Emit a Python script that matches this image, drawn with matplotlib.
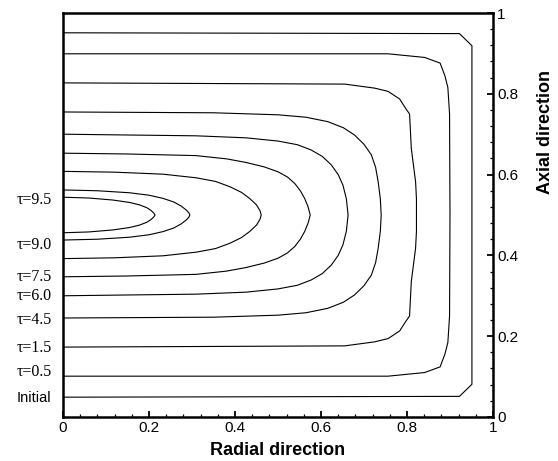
import matplotlib
matplotlib.use('Agg')
import matplotlib.pyplot as plt
from matplotlib.ticker import MultipleLocator
import numpy as np

# lower half of each contour (x, y), outer -> inner;
# the upper half is the mirror image about y = 0.5
c1_x = [0, 0.922, 0.951, 0.951]
c1_y = [0.049, 0.051, 0.081, 0.5]
c2_x = [0, 0.756, 0.841, 0.877, 0.888, 0.895, 0.899, 0.900]
c2_y = [0.101, 0.101, 0.110, 0.124, 0.155, 0.184, 0.25, 0.5]
c3_x = [0, 0.655, 0.725, 0.756, 0.783, 0.798, 0.806, 0.810, 0.820, 0.822, 0.822]
c3_y = [0.173, 0.176, 0.186, 0.194, 0.213, 0.238, 0.25, 0.335, 0.418, 0.46, 0.5]
c4_x = [0, 0.35, 0.5, 0.565, 0.616, 0.652, 0.678, 0.700, 0.717, 0.727, 0.733, 0.738, 0.740]
c4_y = [0.245, 0.247, 0.252, 0.258, 0.269, 0.284, 0.302, 0.325, 0.351, 0.382, 0.418, 0.460, 0.5]
c5_x = [0, 0.15, 0.309, 0.426, 0.5, 0.545, 0.577, 0.603, 0.624, 0.640, 0.651, 0.659, 0.663]
c5_y = [0.300, 0.302, 0.304, 0.309, 0.317, 0.326, 0.339, 0.355, 0.376, 0.400, 0.426, 0.460, 0.5]
c6_x = [0, 0.15, 0.309, 0.38, 0.426, 0.468, 0.5, 0.522, 0.539, 0.552, 0.562, 0.570, 0.575]
c6_y = [0.347, 0.349, 0.353, 0.361, 0.370, 0.381, 0.393, 0.406, 0.422, 0.440, 0.459, 0.480, 0.5]
c7_x = [0, 0.12, 0.233, 0.310, 0.355, 0.388, 0.415, 0.434, 0.450, 0.458, 0.461]
c7_y = [0.392, 0.394, 0.399, 0.408, 0.417, 0.430, 0.444, 0.459, 0.475, 0.489, 0.5]
c8_x = [0, 0.08, 0.155, 0.20, 0.233, 0.258, 0.275, 0.287, 0.293, 0.295]
c8_y = [0.438, 0.440, 0.445, 0.451, 0.459, 0.468, 0.478, 0.488, 0.495, 0.5]
c9_x = [0, 0.06, 0.116, 0.155, 0.178, 0.195, 0.205, 0.211, 0.214]
c9_y = [0.456, 0.458, 0.463, 0.469, 0.475, 0.482, 0.489, 0.495, 0.5]

curves = [(c1_x, c1_y), (c2_x, c2_y), (c3_x, c3_y), (c4_x, c4_y), (c5_x, c5_y),
          (c6_x, c6_y), (c7_x, c7_y), (c8_x, c8_y), (c9_x, c9_y)]

labels = ['Initial', '\u03c4=0.5', '\u03c4=1.5', '\u03c4=4.5', '\u03c4=6.0',
          '\u03c4=7.5', '\u03c4=9.0', '\u03c4=9.5']
label_y = [0.047, 0.111, 0.171, 0.240, 0.300, 0.347, 0.426, 0.537]

fig = plt.figure(figsize=(5.58, 4.61), dpi=100)
ax = fig.add_axes([0.1129, 0.0955, 0.7706, 0.8763])

for cx, cy in curves:
    lx = np.array(cx)
    ly = np.array(cy)
    x = np.concatenate([lx, lx[::-1][1:]])
    y = np.concatenate([ly, 1 - ly[::-1][1:]])
    ax.plot(x, y, color='black', lw=0.8)

for lab, ly in zip(labels, label_y):
    if lab == 'Initial':
        ax.text(-0.028, ly, lab, ha='right', va='center', fontsize=10.5,
                family='Liberation Sans', clip_on=False)
    else:
        ax.text(-0.026, ly, lab, ha='right', va='center', fontsize=11.5,
                family='Liberation Serif', clip_on=False)

ax.set_xlim(0, 1)
ax.set_ylim(0, 1)
for s in ax.spines.values():
    s.set_linewidth(1.8)

ax.yaxis.tick_right()
ax.xaxis.set_major_locator(MultipleLocator(0.2))
ax.xaxis.set_minor_locator(MultipleLocator(0.04))
ax.yaxis.set_major_locator(MultipleLocator(0.2))
ax.yaxis.set_minor_locator(MultipleLocator(0.04))
fmt = lambda v, p: '%g' % v
ax.xaxis.set_major_formatter(plt.FuncFormatter(fmt))
ax.yaxis.set_major_formatter(plt.FuncFormatter(fmt))
ax.tick_params(which='both', direction='in', top=False, left=False)
ax.tick_params(which='major', length=4.5, width=1.3, labelsize=11, pad=3)
ax.tick_params(which='minor', length=2.5, width=0.9)
for t in ax.get_xticklabels() + ax.get_yticklabels():
    t.set_family('Liberation Sans')

ax.set_xlabel('Radial direction', fontsize=13, fontweight='bold',
              family='Liberation Sans', labelpad=5)
ax.text(1.121, 0.705, 'Axial direction', rotation=90, ha='center', va='center',
        fontsize=13, fontweight='bold', family='Liberation Sans',
        transform=ax.transAxes)

fig.savefig('out.png', dpi=100)
